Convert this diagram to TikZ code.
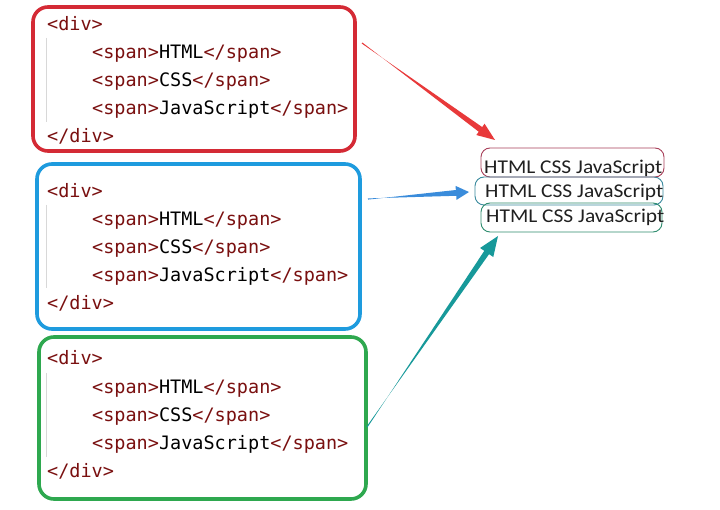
\documentclass[tikz,border=0pt]{standalone}
\usepackage{fontspec}
\usepackage{graphicx}
\usetikzlibrary{calc}
\newfontfamily\codefont{DejaVu Sans Mono}
\newfontfamily\outfont{Carlito}
\definecolor{tagc}{HTML}{7A1010}
\definecolor{redc}{HTML}{D42A35}
\definecolor{bluec}{HTML}{1E9BDE}
\definecolor{greenc}{HTML}{2EA84F}
\definecolor{arrred}{HTML}{E8393A}
\definecolor{arrblue}{HTML}{3A8CDB}
\definecolor{arrteal}{HTML}{17999A}
\definecolor{obred}{HTML}{A8405A}
\definecolor{obblue}{HTML}{3A8A9E}
\definecolor{obgreen}{HTML}{2E8C6E}
\definecolor{guide}{HTML}{D8D8D8}
\definecolor{outtxt}{HTML}{202020}
\newcommand\tg[1]{\textcolor{tagc}{#1}}
% tapered arrow: start, tip, colour, head length, head half-width
\newcommand\taper[5]{%
  \fill[#3] ($(#1)!0.6pt!90:(#2)$)
    -- ($(#2)!#4!(#1)!2.9pt!90:(#1)$)
    -- ($(#2)!#4!(#1)!#5!90:(#1)$)
    -- (#2)
    -- ($(#2)!#4!(#1)!#5!-90:(#1)$)
    -- ($(#2)!#4!(#1)!2.9pt!-90:(#1)$)
    -- ($(#1)!0.6pt!-90:(#2)$) -- cycle;}
\tikzset{
  codebox/.style={draw, line width=3.6pt, rounded corners=15pt, fill=white, inner sep=0pt},
  codeline/.style={anchor=base west, inner sep=0pt, font=\codefont\fontsize{18.5}{18.5}\selectfont},
  guideline/.style={draw=guide, line width=1pt},
  outbox/.style={draw, line width=0.9pt, rounded corners=9pt, inner sep=0pt},
  outtext/.style={anchor=base west, inner sep=0pt, text=outtxt, font=\outfont\fontsize{19.5}{19.5}\selectfont},
}
\newcommand\outstr{\scalebox{1.1}[1]{HTML CSS JavaScript}}
\begin{document}
\begin{tikzpicture}[x=1pt,y=-1pt]
\useasboundingbox[fill=white] (0,0) rectangle (720,510);

% code boxes
\node[codebox, draw=redc, minimum width=322pt, minimum height=144pt] (redbox) at (194,79) {};
\node[codebox, draw=bluec, minimum width=323pt, minimum height=165pt] (bluebox) at (198.5,246.5) {};
\node[codebox, draw=greenc, minimum width=327pt, minimum height=162pt] (greenbox) at (202.5,418) {};

% indent guides
\coordinate (g1a) at (46,38);  \coordinate (g1b) at (46,122);
\coordinate (g2a) at (46,205); \coordinate (g2b) at (46,288);
\coordinate (g3a) at (46,373); \coordinate (g3b) at (46,457);
\draw[guideline] (g1a) -- (g1b);
\draw[guideline] (g2a) -- (g2b);
\draw[guideline] (g3a) -- (g3b);

% red code
\node[codeline] (r1) at (47,31)  {\tg{<div>}};
\node[codeline] (r2) at (92,59)  {\tg{<span>}HTML\tg{</span>}};
\node[codeline] (r3) at (92,87)  {\tg{<span>}CSS\tg{</span>}};
\node[codeline] (r4) at (92,115) {\tg{<span>}JavaScript\tg{</span>}};
\node[codeline] (r5) at (47,143) {\tg{</div>}};
% blue code
\node[codeline] (b1) at (47,198) {\tg{<div>}};
\node[codeline] (b2) at (92,226) {\tg{<span>}HTML\tg{</span>}};
\node[codeline] (b3) at (92,254) {\tg{<span>}CSS\tg{</span>}};
\node[codeline] (b4) at (92,282) {\tg{<span>}JavaScript\tg{</span>}};
\node[codeline] (b5) at (47,310) {\tg{</div>}};
% green code
\node[codeline] (c1) at (47,365) {\tg{<div>}};
\node[codeline] (c2) at (92,393) {\tg{<span>}HTML\tg{</span>}};
\node[codeline] (c3) at (92,421) {\tg{<span>}CSS\tg{</span>}};
\node[codeline] (c4) at (92,449) {\tg{<span>}JavaScript\tg{</span>}};
\node[codeline] (c5) at (47,477) {\tg{</div>}};

% output boxes
\node[outbox, draw=obred, minimum width=183pt, minimum height=29pt] (ored) at (572.5,162.5) {};
\node[outbox, draw=obblue, minimum width=188pt, minimum height=28pt] (oblue) at (569,191) {};
\node[outbox, draw=obgreen, minimum width=181pt, minimum height=29pt] (ogreen) at (571.5,217.5) {};
\node[outtext] (t1) at (484,174) {\outstr};
\node[outtext] (t2) at (485,198) {\outstr};
\node[outtext] (t3) at (486,223) {\outstr};

% arrows
\coordinate (a1s) at (362,43);  \coordinate (a1t) at (495,140);
\coordinate (a2s) at (368,199); \coordinate (a2t) at (469,192);
\coordinate (a3s) at (367,427); \coordinate (a3t) at (498,236);
\taper{a1s}{a1t}{arrred}{18pt}{7pt}
\taper{a2s}{a2t}{arrblue}{13pt}{7pt}
\taper{a3s}{a3t}{arrteal}{20pt}{8pt}
\end{tikzpicture}
\end{document}
